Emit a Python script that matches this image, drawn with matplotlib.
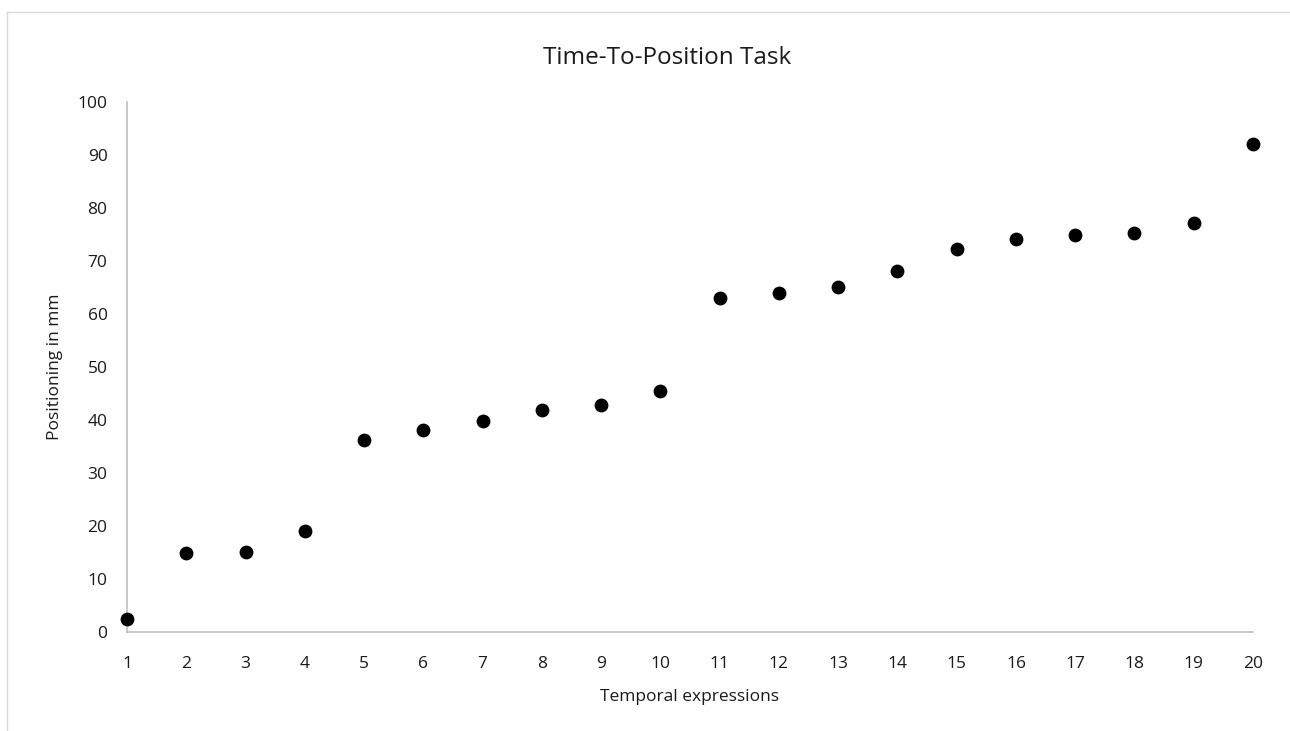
import matplotlib.pyplot as plt
from matplotlib.lines import Line2D

title = "Time-To-Position Task"
xLabel = "Temporal expressions"
yLabel = "Positioning in mm"

expressions = list(range(1, 21))
positions = [2.6, 15.0, 15.1, 19.2, 36.3, 38.1, 39.9, 41.9, 42.8, 45.5,
             63.0, 64.1, 65.2, 68.1, 72.4, 74.3, 74.9, 75.4, 77.3, 92.2]

yTicks = list(range(0, 101, 10))

textColor = "#1a1a1a"
gridColor = "#bfbfbf"

plt.rcParams['font.family'] = ['Open Sans', 'DejaVu Sans']

fig = plt.figure(figsize=(12.9, 7.31), dpi=100)
ax = fig.add_axes([127 / 1290, 1 - 632.3 / 731, 1126 / 1290, 530 / 731])

ax.scatter(expressions, positions, s=80, color="black", zorder=3, clip_on=False)

ax.set_xlim(1, 20)
ax.set_ylim(0, 100)
ax.set_xticks(expressions)
ax.set_yticks(yTicks)
ax.tick_params(length=0, labelsize=12.5, colors=textColor)
ax.tick_params(axis='x', pad=17)
ax.tick_params(axis='y', pad=14)

for side in ["top", "right"]:
    ax.spines[side].set_visible(False)
for side in ["left", "bottom"]:
    ax.spines[side].set_color(gridColor)
    ax.spines[side].set_linewidth(1.2)

fig.text(667 / 1290, 1 - 58 / 731, title, ha="center", va="center",
         fontsize=17.5, color=textColor)
fig.text(690 / 1290, 1 - 697 / 731, xLabel, ha="center", va="center",
         fontsize=12.5, color=textColor)
fig.text(55 / 1290, 1 - 367 / 731, yLabel, ha="center", va="center",
         fontsize=12.5, color=textColor, rotation=90)

# chart area border (only left and top visible in the crop)
fig.add_artist(Line2D([7 / 1290, 7 / 1290], [0, 1 - 12 / 731],
                      transform=fig.transFigure, color="#d9d9d9", lw=1))
fig.add_artist(Line2D([7 / 1290, 1], [1 - 12 / 731, 1 - 12 / 731],
                      transform=fig.transFigure, color="#d9d9d9", lw=1))

plt.savefig("out.png", dpi=100)
